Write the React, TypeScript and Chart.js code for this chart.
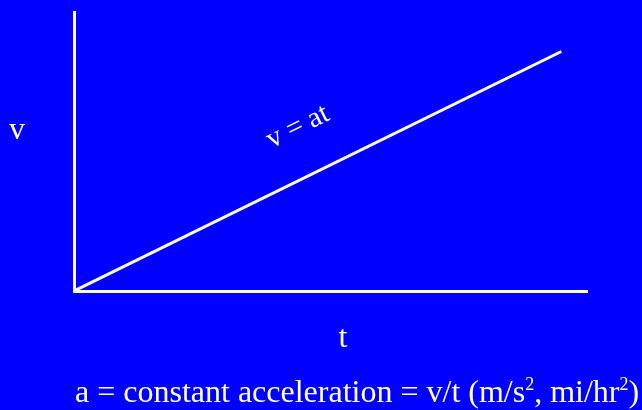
import React, { useEffect, useRef } from "react";
import { Chart, registerables } from "chart.js";

Chart.register(...registerables);

// Velocity grows linearly with time: v = a·t
const timeValues = [0, 9.5];
const velocityValues = [0, 8.6];

const axisMax = { t: 10, v: 10 };

const yAxisLabel = "v";
const xAxisLabel = "t";
const lineLabel = "v = at";
// Caption pieces: [text, isSuperscript]
const captionParts: [string, boolean][] = [
  ["a = constant acceleration = v/t (m/s", false],
  ["2", true],
  [", mi/hr", false],
  ["2", true],
  [")", false],
];

const BG = "#0000ff";
const FG = "#ffffff";
const SERIF = '"Times New Roman", "Liberation Serif", serif';

const textPlugin = {
  id: "physicsText",
  afterDraw(chart: Chart) {
    const { ctx } = chart;
    const xs = chart.scales.x;
    const ys = chart.scales.y;
    ctx.save();
    ctx.fillStyle = FG;
    ctx.textBaseline = "alphabetic";

    // axis letters
    ctx.font = `32px ${SERIF}`;
    ctx.textAlign = "left";
    ctx.fillText(yAxisLabel, 9, 139);
    ctx.fillText(xAxisLabel, 338.5, 347);

    // label laid along the line
    const x0 = xs.getPixelForValue(timeValues[0]);
    const y0 = ys.getPixelForValue(velocityValues[0]);
    const x1 = xs.getPixelForValue(timeValues[1]);
    const y1 = ys.getPixelForValue(velocityValues[1]);
    const angle = Math.atan2(y1 - y0, x1 - x0);
    ctx.save();
    ctx.translate(298, 127);
    ctx.rotate(angle);
    ctx.textAlign = "center";
    ctx.textBaseline = "middle";
    ctx.font = `29px ${SERIF}`;
    ctx.fillText(lineLabel, 0, 0);
    ctx.restore();

    // caption with superscripts
    let cx = 75;
    const base = 402;
    ctx.textAlign = "left";
    for (const [txt, sup] of captionParts) {
      ctx.font = sup ? `18px ${SERIF}` : `32px ${SERIF}`;
      ctx.fillText(txt, cx, sup ? base - 12 : base);
      cx += ctx.measureText(txt).width;
    }
    ctx.restore();
  },
};

export default function App() {
  const ref = useRef<HTMLCanvasElement | null>(null);

  useEffect(() => {
    if (!ref.current) return;
    const chart = new Chart(ref.current, {
      type: "line",
      data: {
        datasets: [
          {
            data: timeValues.map((t, i) => ({ x: t, y: velocityValues[i] })),
            borderColor: FG,
            borderWidth: 3,
            pointRadius: 0,
            fill: false,
            tension: 0,
          },
        ],
      },
      options: {
        animation: false,
        responsive: false,
        events: [],
        layout: {
          autoPadding: false,
          padding: { left: 74, top: 12.5, right: 55, bottom: 119 },
        },
        plugins: {
          legend: { display: false },
          tooltip: { enabled: false },
          title: { display: false },
        },
        scales: {
          x: {
            type: "linear",
            min: 0,
            max: axisMax.t,
            grid: { display: false, drawTicks: false, tickLength: 0 },
            ticks: { display: false },
            border: { display: true, color: FG, width: 3 },
          },
          y: {
            type: "linear",
            min: 0,
            max: axisMax.v,
            grid: { display: false, drawTicks: false, tickLength: 0 },
            ticks: { display: false },
            border: { display: true, color: FG, width: 3 },
          },
        },
      },
      plugins: [textPlugin],
    });
    return () => chart.destroy();
  }, []);

  return (
    <div
      style={{
        position: "fixed",
        left: 0,
        top: 0,
        width: 642,
        height: 410,
        background: BG,
      }}
    >
      <canvas ref={ref} width={642} height={410} style={{ display: "block" }} />
    </div>
  );
}
